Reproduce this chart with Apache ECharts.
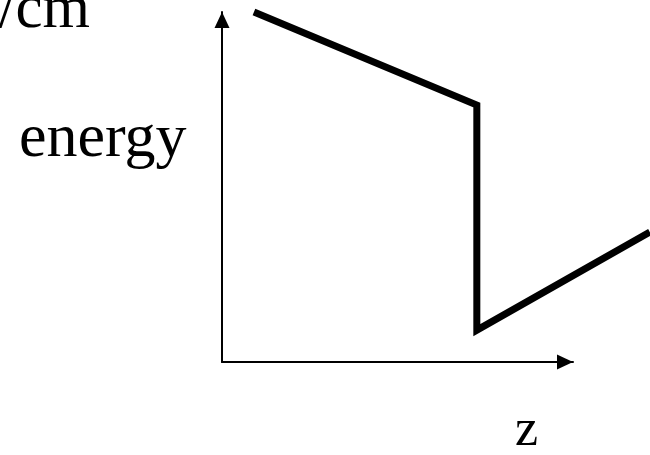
<!DOCTYPE html>
<html>
<head>
<meta charset="utf-8">
<script src="https://cdn.jsdelivr.net/npm/echarts@6/dist/echarts.min.js"></script>
<style>
  html, body { margin: 0; padding: 0; background: #fff; }
  #chart { width: 650px; height: 455px; }
</style>
</head>
<body>
<div id="chart"></div>
<script>
// energy profile along z (arbitrary units, axis runs 0..10)
const zValues = [0.91, 7.26, 7.26, 12.19]
const energyValues = [10, 7.34, 0.91, 3.71]
const yLabel = 'energy'
const xLabel = 'z'
const unitLabel = 'keV/cm'

const chart = echarts.init(document.getElementById('chart'))

const serif = '"Liberation Serif", "DejaVu Serif", serif'
const axisBase = {
  type: 'value',
  min: 0,
  axisTick: { show: false },
  axisLabel: { show: false },
  splitLine: { show: false }
}
const arrowLine = {
  show: true,
  symbol: ['none', 'triangle'],
  symbolSize: [15, 16],
  symbolOffset: [0, -8],
  lineStyle: { color: '#000', width: 2 }
}

chart.setOption({
  backgroundColor: '#fff',
  animation: false,
  grid: [
    // grid 0: visible axes with arrows
    { left: 222, right: 77, top: 12, bottom: 93 },
    // grid 1: same origin, wider, so the curve can run off to the right edge
    { left: 222, right: 0, top: 12, bottom: 93 }
  ],
  xAxis: [
    Object.assign({}, axisBase, { gridIndex: 0, max: 10, axisLine: arrowLine }),
    Object.assign({}, axisBase, { gridIndex: 1, max: 10 * 428 / 351, axisLine: { show: false } })
  ],
  yAxis: [
    Object.assign({}, axisBase, { gridIndex: 0, max: 10, axisLine: arrowLine }),
    Object.assign({}, axisBase, { gridIndex: 1, max: 10, axisLine: { show: false } })
  ],
  series: [
    {
      type: 'line',
      xAxisIndex: 1,
      yAxisIndex: 1,
      data: zValues.map((z, i) => [z, energyValues[i]]),
      showSymbol: false,
      clip: false,
      lineStyle: { color: '#000', width: 7, join: 'miter', cap: 'butt' }
    }
  ],
  graphic: [
    {
      type: 'text',
      right: 560,
      top: -20,
      style: { text: unitLabel, font: '61px ' + serif, fill: '#000', align: 'right' }
    },
    {
      type: 'text',
      left: 19,
      top: 109,
      style: { text: yLabel, font: '62px ' + serif, fill: '#000' }
    },
    {
      type: 'text',
      left: 515,
      top: 405,
      style: { text: xLabel, font: '52px ' + serif, fill: '#000' }
    }
  ]
})
</script>
</body>
</html>
